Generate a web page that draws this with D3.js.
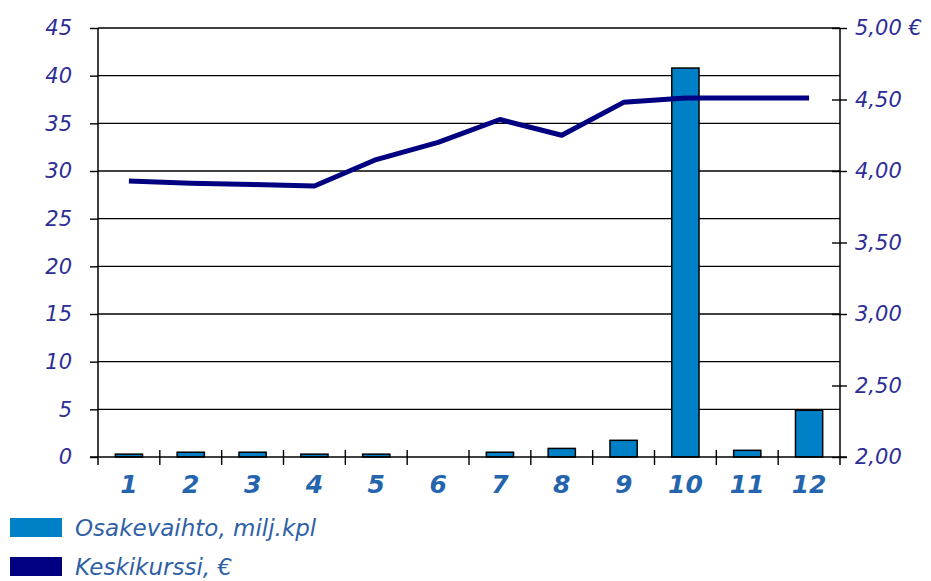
<!DOCTYPE html>
<html><head><meta charset="utf-8">
<script src="https://cdn.jsdelivr.net/npm/d3@7"></script>
<style>
html,body{margin:0;padding:0;background:#fff;}
svg{display:block;}
text{font-family:"DejaVu Sans",Verdana,sans-serif;}
</style></head>
<body>
<svg id="chart" width="931" height="581"></svg>
<script>
const months = ["1","2","3","4","5","6","7","8","9","10","11","12"];
const volume = [0.3,0.5,0.5,0.3,0.3,0,0.5,0.9,1.75,40.8,0.7,4.9];
const avgPrice = [3.93,3.915,3.905,3.895,4.08,4.2,4.36,4.25,4.48,4.51,4.51,4.51];
const leftTicks = [0,5,10,15,20,25,30,35,40,45];
const rightTicks = [2.0,2.5,3.0,3.5,4.0,4.5,5.0];
const legendLabels = ["Osakevaihto, milj.kpl","Keskikurssi, €"];

const svg = d3.select("#chart");
const L = 98, R = 840, T = 28, B = 457;

const x = d3.scaleBand().domain(months).range([L, R]).paddingInner(0.56).paddingOuter(0.28);
const xb = d3.scaleBand().domain(months).range([L, R]);
const yL = d3.scaleLinear().domain([0,45]).range([B, T]);
const yR = d3.scaleLinear().domain([2,5]).range([B, T]);

const barColor = "#0080c6", lineColor = "#000080";
const numColor = "#2d2d96", xColor = "#2465ae", legColor = "#2f5fa6";

// gridlines
svg.append("g").selectAll("line").data(leftTicks.filter(d=>d>0)).join("line")
  .attr("x1", L).attr("x2", R).attr("y1", d=>yL(d)).attr("y2", d=>yL(d))
  .attr("stroke", "#000").attr("stroke-width", 1.4);

// bars
svg.append("g").selectAll("rect").data(months.map((m,i)=>({m, v:volume[i]})).filter(d=>d.v>0)).join("rect")
  .attr("x", d=>x(d.m)).attr("width", x.bandwidth())
  .attr("y", d=>yL(d.v)).attr("height", d=>B - yL(d.v))
  .attr("fill", barColor).attr("stroke", "#000").attr("stroke-width", 1.5);

// left axis
const gl = svg.append("g").attr("transform", `translate(${L},0)`)
  .call(d3.axisLeft(yL).tickValues(leftTicks).tickSize(8).tickPadding(18).tickFormat(d3.format("d")));
gl.select(".domain").attr("stroke", "#000").attr("stroke-width", 1.5).attr("d", `M0,${T}V${B}`);
gl.selectAll(".tick line").attr("stroke", "#000").attr("stroke-width", 1.4);
gl.selectAll(".tick text").attr("fill", numColor).attr("font-size", 21).attr("font-style", "italic");

// right axis
const fmtR = d => d3.format(".2f")(d).replace(".", ",") + (d === 5 ? " €" : "");
const gr = svg.append("g").attr("transform", `translate(${R},0)`)
  .call(d3.axisRight(yR).tickValues(rightTicks).tickSize(7).tickPadding(8).tickFormat(fmtR));
gr.select(".domain").attr("stroke", "#000").attr("stroke-width", 1.5).attr("d", `M0,${T}V${B}`);
gr.selectAll(".tick line").attr("stroke", "#000").attr("stroke-width", 1.4).attr("x1", -8);
gr.selectAll(".tick text").attr("fill", numColor).attr("font-size", 21).attr("font-style", "italic");

// bottom axis
svg.append("line").attr("x1", L-8).attr("x2", R+7).attr("y1", B).attr("y2", B)
  .attr("stroke", "#000").attr("stroke-width", 1.5);
svg.append("g").selectAll("line").data(months.slice(1)).join("line")
  .attr("x1", d=>xb(d)).attr("x2", d=>xb(d)).attr("y1", B-7).attr("y2", B+8)
  .attr("stroke", "#000").attr("stroke-width", 1.4);
svg.append("line").attr("x1", L).attr("x2", L).attr("y1", B).attr("y2", B+8).attr("stroke","#000").attr("stroke-width",1.5);
svg.append("line").attr("x1", R).attr("x2", R).attr("y1", B).attr("y2", B+8).attr("stroke","#000").attr("stroke-width",1.5);
svg.append("g").selectAll("text").data(months).join("text")
  .attr("x", d=>xb(d)+xb.bandwidth()/2).attr("y", 493)
  .attr("text-anchor", "middle").attr("fill", xColor)
  .attr("font-size", 25).attr("font-weight", "bold").attr("font-style", "italic")
  .text(d=>d);

// line
const line = d3.line().x((d,i)=>xb(months[i])+xb.bandwidth()/2).y(d=>yR(d));
svg.append("path").datum(avgPrice).attr("d", line)
  .attr("fill", "none").attr("stroke", lineColor).attr("stroke-width", 5)
  .attr("stroke-linejoin", "round");

// legend
const leg = svg.append("g");
[barColor, lineColor].forEach((c,i)=>{
  leg.append("rect").attr("x", 10).attr("y", 518 + i*39).attr("width", 52).attr("height", 19).attr("fill", c);
  leg.append("text").attr("x", 75).attr("y", 536 + i*39).attr("fill", legColor)
    .attr("font-size", 23).attr("font-style", "italic").text(legendLabels[i]);
});
</script>
</body></html>
